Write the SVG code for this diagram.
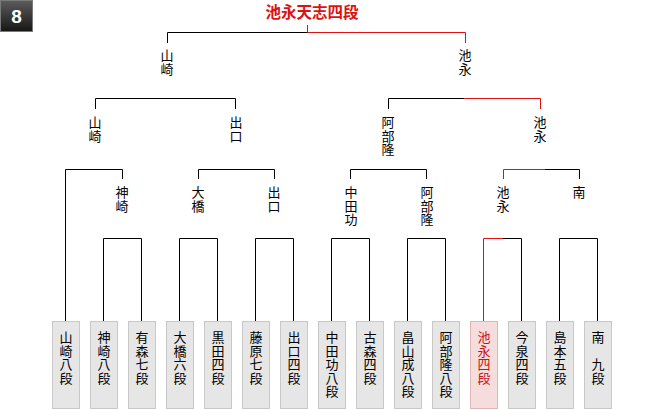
<svg xmlns="http://www.w3.org/2000/svg" width="660" height="410" viewBox="0 0 660 410">
<style>
.ln{fill:none;stroke:#000;stroke-width:1}
.rd{fill:none;stroke:#dd1111;stroke-width:1}
.lb{font-family:"Noto Sans CJK JP","Noto Sans CJK SC",sans-serif;font-size:13px;fill:#000;writing-mode:vertical-rl;letter-spacing:0.5px}
.box{fill:#e6e6e6;stroke:#c8c8c8;stroke-width:1}
.boxw{fill:#f5dddd;stroke:#dfb5b5;stroke-width:1}
.win{fill:#cc1111}
</style>
<defs>
<linearGradient id="bg" x1="0" y1="0" x2="0" y2="1">
<stop offset="0" stop-color="#5c5c5c"/>
<stop offset="1" stop-color="#161616"/>
</linearGradient>
</defs>
<g id="badge">
<rect x="0.5" y="0.5" width="32" height="31" fill="url(#bg)" stroke="#7a7a7a"/>
<text x="16.5" y="23" font-family="Liberation Sans, Arial, sans-serif" font-weight="bold" font-size="19" fill="#fff" text-anchor="middle">8</text>
</g>
<g id="title">
<text x="312" y="17.5" font-family="Noto Sans CJK JP, sans-serif" font-weight="bold" font-size="15.5" fill="#dd1111" text-anchor="middle">池永天志四段</text>
</g>
<g id="connectors">
<path class="rd" d="M307.5 25V32.5H465.5V43"/>
<path class="ln" d="M307.5 32.5H167.5V43"/>
<path class="ln" d="M95.5 109V98.5H235.5V109"/>
<path class="ln" d="M388.5 109V98.5H464.5"/>
<path class="rd" d="M464.5 98.5H540.5V109"/>
<path class="ln" d="M65.5 321V169.5H122.5V179"/>
<path class="ln" d="M198.5 179V169.5H274.5V179"/>
<path class="ln" d="M350.5 179V169.5H426.5V179"/>
<path class="rd" d="M503.5 179V169.5H545"/>
<path class="ln" d="M545 169.5H579.5V179"/>
<path class="ln" d="M103.5 321V238.5H141.5V321"/>
<path class="ln" d="M179.5 321V238.5H217.5V321"/>
<path class="ln" d="M255.5 321V238.5H293.5V321"/>
<path class="ln" d="M331.5 321V238.5H369.5V321"/>
<path class="ln" d="M407.5 321V238.5H445.5V321"/>
<path class="rd" d="M483.5 321V238.5H503"/>
<path class="ln" d="M503 238.5H521.5V321"/>
<path class="ln" d="M559.5 321V238.5H597.5V321"/>
</g>
<g id="l1-yamasaki"><text class="lb" x="167" y="49">山崎</text></g>
<g id="l1-ikenaga"><text class="lb" x="465" y="49">池永</text></g>
<g id="l2-yamasaki"><text class="lb" x="95" y="116">山崎</text></g>
<g id="l2-deguchi"><text class="lb" x="236" y="116">出口</text></g>
<g id="l2-abe"><text class="lb" x="388" y="116">阿部隆</text></g>
<g id="l2-ikenaga"><text class="lb" x="540" y="116">池永</text></g>
<g id="l3-kanzaki"><text class="lb" x="122" y="186">神崎</text></g>
<g id="l3-ohashi"><text class="lb" x="198" y="186">大橋</text></g>
<g id="l3-deguchi"><text class="lb" x="274" y="186">出口</text></g>
<g id="l3-nakata"><text class="lb" x="351" y="186">中田功</text></g>
<g id="l3-abe"><text class="lb" x="427" y="186">阿部隆</text></g>
<g id="l3-ikenaga"><text class="lb" x="503" y="186">池永</text></g>
<g id="l3-minami"><text class="lb" x="579" y="186">南</text></g>
<g id="p1"><rect class="box" x="52.5" y="321.5" width="27" height="87"/><text class="lb" x="66" y="331">山崎八段</text></g>
<g id="p2"><rect class="box" x="90.5" y="321.5" width="27" height="87"/><text class="lb" x="104" y="331">神崎八段</text></g>
<g id="p3"><rect class="box" x="128.5" y="321.5" width="27" height="87"/><text class="lb" x="142" y="331">有森七段</text></g>
<g id="p4"><rect class="box" x="166.5" y="321.5" width="27" height="87"/><text class="lb" x="180" y="331">大橋六段</text></g>
<g id="p5"><rect class="box" x="204.5" y="321.5" width="27" height="87"/><text class="lb" x="218" y="331">黒田四段</text></g>
<g id="p6"><rect class="box" x="242.5" y="321.5" width="27" height="87"/><text class="lb" x="256" y="331">藤原七段</text></g>
<g id="p7"><rect class="box" x="280.5" y="321.5" width="27" height="87"/><text class="lb" x="294" y="331">出口四段</text></g>
<g id="p8"><rect class="box" x="318.5" y="321.5" width="27" height="87"/><text class="lb" x="332" y="331">中田功八段</text></g>
<g id="p9"><rect class="box" x="356.5" y="321.5" width="27" height="87"/><text class="lb" x="370" y="331">古森四段</text></g>
<g id="p10"><rect class="box" x="394.5" y="321.5" width="27" height="87"/><text class="lb" x="408" y="331">畠山成八段</text></g>
<g id="p11"><rect class="box" x="432.5" y="321.5" width="27" height="87"/><text class="lb" x="446" y="331">阿部隆八段</text></g>
<g id="p12"><rect class="boxw" x="470.5" y="321.5" width="27" height="87"/><text class="lb win" x="484" y="331">池永四段</text></g>
<g id="p13"><rect class="box" x="508.5" y="321.5" width="27" height="87"/><text class="lb" x="522" y="331">今泉四段</text></g>
<g id="p14"><rect class="box" x="546.5" y="321.5" width="27" height="87"/><text class="lb" x="560" y="331">島本五段</text></g>
<g id="p15"><rect class="box" x="584.5" y="321.5" width="27" height="87"/><text class="lb" x="598" y="331">南　九段</text></g>
</svg>
